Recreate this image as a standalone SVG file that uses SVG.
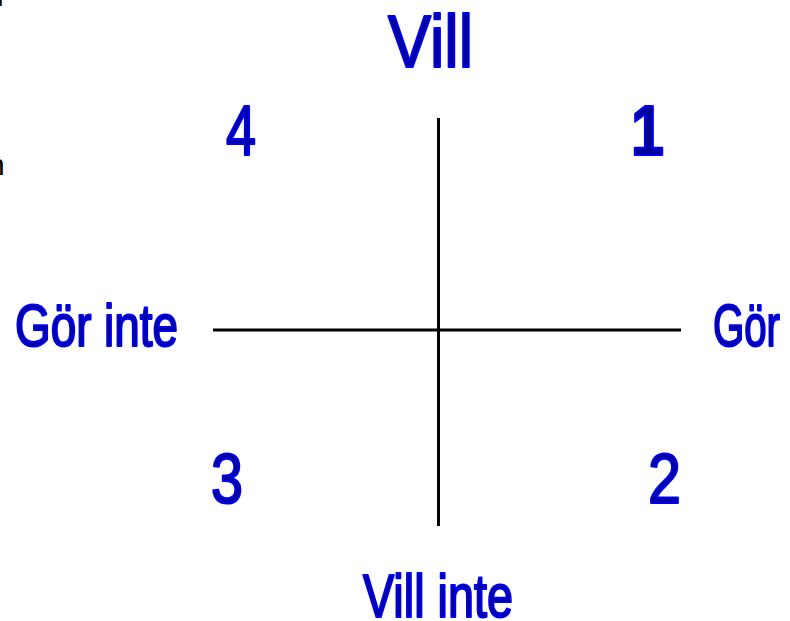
<svg xmlns="http://www.w3.org/2000/svg" width="790" height="621" viewBox="0 0 790 621">
<style>
.t{font-family:"Liberation Sans",Arial,sans-serif;fill:#00009c;stroke:#0000f0;stroke-width:2.2;stroke-linejoin:round;}
.frag{font-family:"Liberation Sans",Arial,sans-serif;fill:#000;}
.ax{stroke:#000;stroke-width:3;fill:none;}
</style>
<rect width="790" height="621" fill="#fff"/>
<g id="fragments">
<text class="frag" x="-3" y="6" font-size="30">l</text>
<text class="frag" x="-12" y="175" font-size="30">n</text>
</g>
<g id="axes">
<line class="ax" x1="438.5" y1="118" x2="438.5" y2="526"/>
<line class="ax" x1="213" y1="330" x2="681" y2="330"/>
</g>
<g id="label-vill"><text class="t" x="388" y="67" font-size="75" textLength="85" lengthAdjust="spacingAndGlyphs">Vill</text></g>
<g id="label-vill-inte"><text class="t" x="363" y="617" font-size="61" textLength="150" lengthAdjust="spacingAndGlyphs">Vill inte</text></g>
<g id="label-gor-inte"><text class="t" x="15" y="346" font-size="60" textLength="163" lengthAdjust="spacingAndGlyphs">Gör inte</text></g>
<g id="label-gor"><text class="t" x="713" y="346" font-size="60" textLength="67" lengthAdjust="spacingAndGlyphs">Gör</text></g>
<g id="q4"><text class="t" x="226" y="155" font-size="71" textLength="30" lengthAdjust="spacingAndGlyphs">4</text></g>
<g id="q1"><text class="t" x="631" y="155" font-size="71" font-weight="bold" textLength="33" lengthAdjust="spacingAndGlyphs">1</text></g>
<g id="q3"><text class="t" x="211" y="503" font-size="71" textLength="32" lengthAdjust="spacingAndGlyphs">3</text></g>
<g id="q2"><text class="t" x="648" y="503" font-size="71" textLength="33" lengthAdjust="spacingAndGlyphs">2</text></g>
</svg>
